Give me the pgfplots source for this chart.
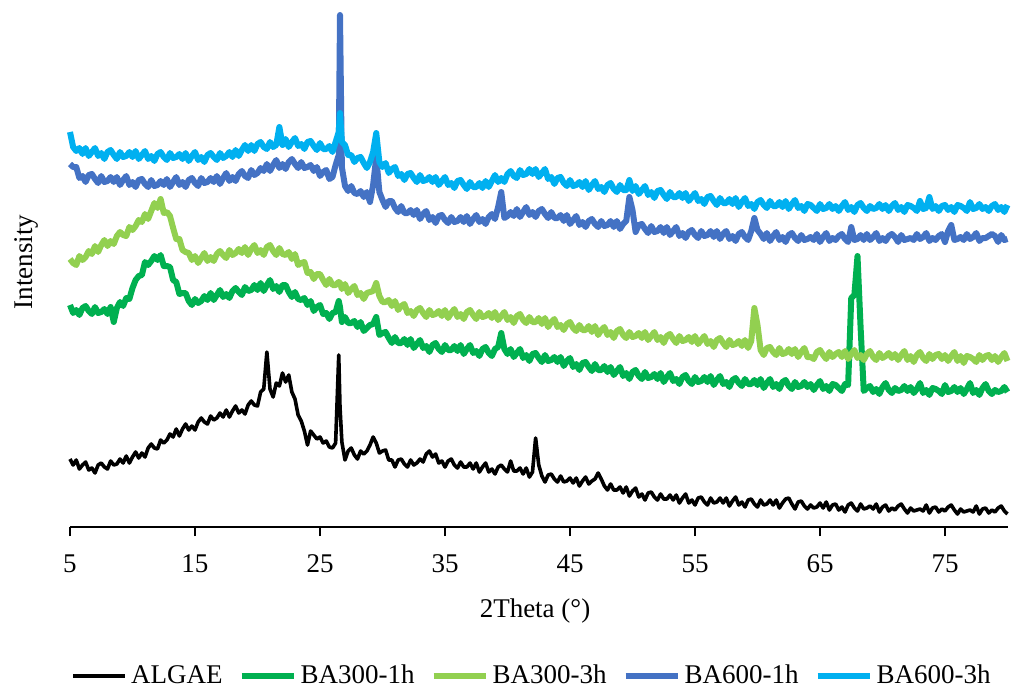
\documentclass[border=0pt]{standalone}
\usepackage{fontspec}
\setmainfont{Liberation Serif}
\usepackage{pgfplots}
\pgfplotsset{compat=1.18}
\usepackage{pgfplotstable}

\definecolor{cALG}{HTML}{000000}
\definecolor{cB31}{HTML}{00B050}
\definecolor{cB33}{HTML}{92D050}
\definecolor{cB61}{HTML}{4472C4}
\definecolor{cB63}{HTML}{00B0F0}

% intensities in arbitrary units (curves stacked)
\pgfplotstableread{
th alg b31 b33 b61 b63
5 68 222 268 363 395
5.25 62 214 264 360 380
5.5 67 217 262 360 376
5.75 58 212 271 349 379
6 62 219 267 351 373
6.25 65 221 270 345 379
6.5 57 216 276 352 371
6.75 59 213 273 353 375
7 54 220 281 348 379
7.25 62 214 275 344 371
7.5 64 215 282 351 374
7.75 60 218 287 345 368
8 58 213 281 346 375
8.25 66 220 286 350 377
8.5 62 205 283 345 372
8.75 63 219 291 350 368
9 68 225 295 342 375
9.25 64 221 292 347 370
9.5 71 229 291 351 371
9.75 64 228 300 342 375
10 70 239 297 345 370
10.25 75 247 301 340 376
10.5 69 251 307 347 368
10.75 74 252 305 348 372
11 70 265 313 343 376
11.25 79 262 308 340 368
11.5 83 266 316 347 371
11.75 79 271 324 341 366
12 78 267 319 342 373
12.25 87 272 328 346 375
12.5 84 261 314 342 370
12.75 87 261 315 348 367
13 93 260 311 340 374
13.25 90 247 299 345 369
13.5 98 245 288 350 370
13.75 91 233 288 342 373
14 98 234 277 345 368
14.25 103 234 275 340 374
14.5 97 226 274 347 366
14.75 101 222 267 349 371
15 97 228 271 344 375
15.25 105 224 264 341 367
15.5 109 226 269 349 370
15.75 105 231 274 344 365
16 103 227 266 345 372
16.25 111 234 270 349 374
16.5 107 227 266 345 370
16.75 109 232 273 351 367
17 114 237 276 343 374
17.25 110 230 272 349 369
17.5 117 233 269 354 371
17.75 110 229 277 346 375
18 116 236 272 350 370
18.25 121 239 274 346 377
18.5 114 235 278 353 371
18.75 117 232 274 356 377
19 113 240 280 351 382
19.25 122 236 272 349 376
19.5 126 237 278 357 382
19.75 122 242 282 352 376
20 121 237 274 354 383
20.25 135 244 277 359 385
20.5 138 236 272 356 380
20.75 175 242 280 363 378
21 138 247 282 356 385
21.25 130 238 276 362 380
21.5 144 241 272 367 382
21.75 141 235 279 359 400
22 154 242 273 363 382
22.25 145 242 272 358 388
22.5 152 235 275 365 380
22.75 135 230 268 368 385
23 128 235 273 363 389
23.25 112 228 262 359 381
23.5 106 227 264 365 383
23.75 96 229 265 359 378
24 82 222 254 360 385
24.25 96 226 255 362 386
24.5 92 216 248 356 381
24.75 88 220 253 360 377
25 90 222 253 351 384
25.25 84 213 247 355 378
25.5 86 214 242 357 378
25.75 80 208 248 348 381
26 79 214 242 350 375
26.25 84 215 242 362 385
26.5 172 226 245 372 395
26.6 120 220 244 512 414
26.75 85 205 238 360 385
27 67 210 243 341 382
27.25 76 204 234 336 372
27.5 79 204 238 341 372
27.75 72 206 241 334 365
28 68 200 232 333 369
28.25 76 205 234 336 370
28.5 73 196 228 330 364
28.75 76 199 234 335 359
29 82 202 235 325 365
29.25 90 203 236 342 375
29.5 84 210 244 370 394
29.75 74 192 231 335 365
30 76 194 225 327 360
30.25 77 195 225 320 364
30.5 67 189 227 326 354
30.75 67 184 221 326 358
31 60 190 226 319 360
31.25 67 184 217 315 351
31.5 68 184 221 321 353
31.75 63 188 223 314 347
32 60 182 214 314 353
32.25 67 188 216 317 354
32.5 62 179 211 312 349
32.75 64 183 217 317 345
33 68 187 219 308 352
33.25 65 179 214 313 346
33.5 73 181 210 316 347
33.75 76 175 217 307 350
34 70 182 212 310 345
34.25 73 184 213 304 350
34.5 64 178 216 311 342
34.75 66 175 211 312 346
35 60 182 217 307 350
35.25 66 177 209 304 342
35.5 68 177 214 310 344
35.75 62 181 218 305 339
36 59 176 210 306 346
36.25 65 182 213 310 347
36.5 60 173 208 305 342
36.75 60 178 215 311 338
37 64 182 217 303 345
37.25 58 174 212 308 340
37.5 64 176 208 312 340
37.75 55 171 215 305 344
38 60 178 210 308 339
38.25 64 180 211 303 346
38.5 55 174 214 310 340
38.75 58 171 209 313 346
39 53 178 215 308 352
39.25 60 180 207 320 345
39.5 62 194 211 335 349
39.75 58 178 215 309 345
40 55 173 207 311 353
40.25 66 178 210 315 356
40.5 56 170 204 311 351
40.75 56 174 211 318 349
41 59 178 213 310 357
41.25 53 169 207 315 352
41.5 59 172 204 320 353
41.75 50 166 210 312 358
42 55 173 205 315 353
42.25 89 174 205 310 358
42.5 62 169 209 316 350
42.75 51 165 203 318 354
43 45 172 209 313 358
43.25 52 166 200 309 348
43.5 53 167 205 315 350
43.75 48 170 208 309 343
44 45 165 200 309 349
44.25 51 170 202 312 350
44.5 45 161 197 306 344
44.75 46 166 203 312 341
45 49 169 205 303 347
45.25 44 160 199 307 341
45.5 49 163 196 311 342
45.75 41 157 202 302 345
46 46 164 197 305 340
46.25 50 165 197 300 346
46.5 43 160 201 306 337
46.75 46 156 195 308 342
47 48 163 201 303 346
47.25 54 157 192 300 338
47.5 48 157 197 306 340
47.75 41 161 200 301 335
48 37 155 192 302 342
48.25 43 160 195 306 344
48.5 37 152 189 300 338
48.75 37 156 196 306 335
49 40 160 198 298 342
49.25 34 151 192 303 337
49.5 40 154 189 306 337
49.75 31 148 195 330 347
50 36 155 190 317 336
50.25 39 157 191 295 341
50.5 30 151 194 302 333
50.75 33 148 189 303 337
51 27 155 195 298 341
51.25 34 149 187 294 332
51.5 35 150 191 301 335
51.75 30 153 195 295 329
52 27 148 187 296 336
52.25 33 154 190 300 337
52.5 28 145 184 294 332
52.75 28 150 191 300 328
53 32 154 193 292 335
53.25 27 146 188 296 330
53.5 32 148 184 300 330
53.75 24 143 191 291 334
54 29 150 186 294 329
54.25 33 152 187 289 334
54.5 24 146 190 295 326
54.75 27 143 185 297 330
55 22 150 191 292 334
55.25 29 145 183 289 326
55.5 30 146 187 296 328
55.75 25 150 191 291 323
56 22 145 183 292 330
56.25 29 151 186 296 331
56.5 24 142 180 290 326
56.75 25 147 187 296 322
57 29 151 189 288 329
57.25 24 143 184 293 324
57.5 29 145 180 296 324
57.75 21 140 187 288 328
58 26 147 182 291 323
58.25 30 149 183 286 329
58.5 22 144 186 293 320
58.75 25 141 181 295 325
59 20 148 187 290 329
59.25 27 143 179 287 321
59.5 28 143 186 296 323
59.75 23 147 219 309 318
60 20 142 202 297 325
60.25 27 148 177 293 327
60.5 22 139 172 288 322
60.75 23 144 179 294 319
61 27 148 180 286 326
61.25 22 140 175 291 321
61.5 27 143 172 295 321
61.75 19 138 179 287 325
62 24 145 173 290 320
62.25 28 147 174 285 326
62.5 29 141 178 292 318
62.75 23 138 173 294 323
63 18 145 178 289 327
63.25 25 140 170 286 319
63.5 26 141 175 292 321
63.75 21 145 179 287 316
64 18 140 170 288 323
64.25 22 143 170 290 322
64.5 19 137 168 287 319
64.75 20 142 175 293 316
65 24 146 177 285 323
65.25 19 138 172 290 318
65.5 25 141 168 294 319
65.75 17 136 175 286 323
66 22 143 170 289 318
66.25 23 142 173 287 321
66.5 17 139 175 291 316
66.75 20 136 170 293 321
67 15 143 176 288 325
67.25 22 142 168 285 317
67.5 24 229 173 300 320
67.75 19 232 177 287 315
68 16 271 169 288 322
68.25 23 199 172 292 324
68.5 18 136 167 287 319
68.75 19 139 173 293 316
69 21 141 176 287 321
69.25 18 135 170 290 318
69.5 23 138 167 294 319
69.75 15 133 174 286 323
70 20 140 169 289 318
70.25 22 144 171 286 322
70.5 16 137 174 291 316
70.75 19 134 169 293 321
71 17 139 173 290 324
71.25 21 136 167 285 317
71.5 23 137 172 292 320
71.75 18 141 176 287 315
72 14 136 167 288 322
72.25 19 140 171 289 321
72.5 16 134 165 287 319
72.75 17 138 172 293 316
73 18 144 175 288 326
73.25 16 134 169 290 318
73.5 22 137 166 294 319
73.75 14 132 173 286 330
74 19 139 168 289 318
74.25 20 138 172 287 321
74.5 15 136 173 291 316
74.75 18 133 168 293 321
75 16 142 172 285 322
75.25 20 135 166 296 317
75.5 22 136 171 302 320
75.75 17 140 175 287 315
76 13 135 166 288 322
76.25 18 139 171 290 321
76.5 15 133 164 287 319
76.75 16 138 171 293 316
77 17 144 170 288 325
77.25 15 134 168 290 318
77.5 21 137 165 294 319
77.75 13 132 172 286 323
78 18 139 167 289 318
78.25 19 143 171 289 320
78.5 14 136 172 291 316
78.75 17 133 167 293 321
79 15 137 171 291 323
79.25 19 135 165 285 317
79.5 21 136 170 292 320
79.75 16 140 174 287 315
80 13 135 166 288 322
}\xrd

\begin{document}
\begin{tikzpicture}
\useasboundingbox (-35pt,-83pt) rectangle (472pt,263.5pt);
\begin{axis}[
    at={(0,0)}, anchor=south west,
    scale only axis, width=468.75pt, height=258.5pt,
    xmin=5, xmax=80, ymin=0, ymax=517,
    axis x line*=bottom, axis y line*=left,
    y axis line style={draw=none},
    x axis line style={-, line width=0.7pt},
    ytick=\empty, xtick={5,15,...,75},
    tick align=outside, major tick length=4.5pt,
    tick style={line width=0.7pt, black},
    font=\fontsize{13.5}{16}\selectfont,
    /pgf/number format/assume math mode=true,
    xticklabel style={anchor=center, yshift=-14pt},
    xlabel={2Theta (°)},
    xlabel style={at={(axis description cs:0.496,-0.163)}, anchor=center},
    ylabel={Intensity},
    ylabel style={at={(axis description cs:-0.046,0.513)}, anchor=center},
    legend columns=5,
    legend style={at={(0.494,-0.288)}, anchor=center, draw=none, fill=none,
        inner sep=0pt, font=\fontsize{13.5}{16}\selectfont,
        /tikz/every even column/.append style={column sep=6pt}},
    legend cell align=left,
    legend image code/.code={\draw[#1, line cap=butt] (0pt,0pt) -- (26pt,0pt);},
    every axis plot/.append style={line join=round},
    clip=false]
\addplot[cALG, line width=1.8pt] table[x=th, y=alg] {\xrd};
\addlegendentry{ALGAE}
\addplot[cB31, line width=3pt] table[x=th, y=b31] {\xrd};
\addlegendentry{BA300-1h}
\addplot[cB33, line width=3pt] table[x=th, y=b33] {\xrd};
\addlegendentry{BA300-3h}
\addplot[cB61, line width=3pt] table[x=th, y=b61] {\xrd};
\addlegendentry{BA600-1h}
\addplot[cB63, line width=3pt] table[x=th, y=b63] {\xrd};
\addlegendentry{BA600-3h}
\end{axis}
\end{tikzpicture}
\end{document}
